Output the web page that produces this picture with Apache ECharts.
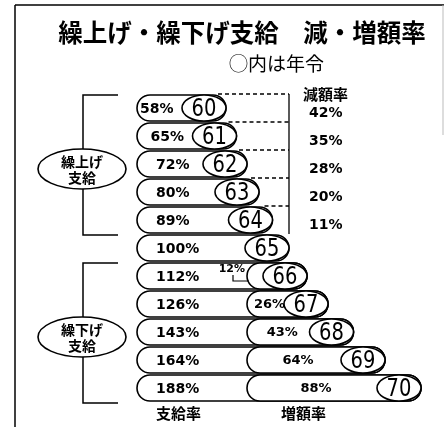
<!DOCTYPE html>
<html>
<head>
<meta charset="utf-8">
<style>html,body{margin:0;padding:0;background:#fff;}#c{width:444px;height:427px;}</style>
<script src="https://cdn.jsdelivr.net/npm/echarts@6/dist/echarts.min.js"></script>
</head>
<body>
<div id="c"></div>
<script>
// ---- data ----
const titleText = '繰上げ・繰下げ支給　減・増額率';
const noteText = '◯内は年令';
const ages = ['60','61','62','63','64','65','66','67','68','69','70'];
const payRates = [58, 65, 72, 80, 89, 100, 112, 126, 143, 164, 188];   // 支給率 (%)
const reductionAges = ['60','61','62','63','64'];
const reductionRates = [42, 35, 28, 20, 11];                          // 減額率 (%)
const increaseAges = ['66','67','68','69','70'];
const increaseRates = [12, 26, 43, 64, 88];                           // 増額率 (%)
const reductionHeader = '減額率';
const bottomLabels = ['支給率', '増額率'];
const groupNames = ['繰上げ\n支給', '繰下げ\n支給'];
const groupFirstAge = ['60', '66'];
const groupLastAge = ['64', '70'];

// ---- styles / layout constants ----
const JP = "'Noto Sans CJK JP', sans-serif";
const NUM = "'DejaVu Sans', sans-serif";
const LW = 1.6;
const INNER_START = 72;   // where the 増額 capsule begins (schematic)
const BASE = 100;

const chart = echarts.init(document.getElementById('c'), null, {renderer: 'canvas'});

function rowItem(params, api) {
  const i = params.dataIndex;
  const rate = api.value(0);
  const age = ages[i];
  const [xEnd, yc] = api.coord([rate, i]);
  const x0 = api.coord([0, i])[0] - 2;
  const xBase = api.coord([BASE, i])[0];
  const band = api.size([0, 1])[1];
  const hh = band / 2 - 1;
  const rx = 22;
  const cx = xEnd - rx;
  const ch = [];
  // outer capsule
  ch.push({type: 'rect', shape: {x: x0, y: yc - hh, width: xEnd - x0, height: hh * 2, r: hh},
    style: {fill: '#fff', stroke: '#000', lineWidth: LW}});
  const ri = reductionAges.indexOf(age);
  if (ri >= 0) {
    const yTop = yc - band / 2;
    ch.push({type: 'line', shape: {x1: xEnd - 8, y1: yTop, x2: xBase, y2: yTop},
      style: {stroke: '#000', lineWidth: 1.3, lineDash: [4, 3]}});
    if (ri === 0) {
      const yBottom = api.coord([0, ages.indexOf(reductionAges[reductionAges.length - 1])])[1] + band / 2;
      ch.push({type: 'line', shape: {x1: xBase, y1: yTop, x2: xBase, y2: yBottom},
        style: {stroke: '#000', lineWidth: 1.3}});
      ch.push({type: 'text', style: {text: reductionHeader, x: xBase + 14, y: yTop, textAlign: 'left', textVerticalAlign: 'middle',
        font: 'bold 15px ' + JP, fill: '#000'}});
    }
    ch.push({type: 'text', style: {text: reductionRates[ri] + '%', x: xBase + 20, y: yc + 5, textAlign: 'left', textVerticalAlign: 'middle',
      font: 'bold 14px ' + NUM, fill: '#000'}});
  }
  const ii = increaseAges.indexOf(age);
  if (ii >= 0) {
    const xi = api.coord([INNER_START, i])[0];
    ch.push({type: 'rect', shape: {x: xi, y: yc - hh, width: xEnd - xi, height: hh * 2, r: hh},
      style: {fill: '#fff', stroke: '#000', lineWidth: LW}});
    const lbl = increaseRates[ii] + '%';
    if (ii === 0) {
      ch.push({type: 'text', style: {text: lbl, x: xi - 2, y: yc - 7, textAlign: 'right', textVerticalAlign: 'middle',
        font: 'bold 11px ' + NUM, fill: '#000'}});
      ch.push({type: 'polyline', shape: {points: [[xi - 14, yc - 1], [xi - 14, yc + 5], [xi + 2, yc + 5]]},
        style: {stroke: '#000', lineWidth: 1.2, fill: null}});
    } else {
      ch.push({type: 'text', style: {text: lbl, x: (xi + cx - rx) / 2 + 4, y: yc + 1, textAlign: 'center', textVerticalAlign: 'middle',
        font: 'bold 13px ' + NUM, fill: '#000'}});
    }
  }
  // age ellipse
  ch.push({type: 'ellipse', shape: {cx: cx, cy: yc, rx: rx, ry: hh},
    style: {fill: '#fff', stroke: '#000', lineWidth: LW}});
  ch.push({type: 'text', x: cx, y: yc + 1, scaleX: 0.78,
    style: {text: age, x: 0, y: 0, textAlign: 'center', textVerticalAlign: 'middle',
    font: '25px ' + NUM, fill: '#000'}});
  // pay rate label
  const tx = Math.min(x0 + 19, cx - rx - 42);
  ch.push({type: 'text', style: {text: rate + '%', x: tx, y: yc + 1, textAlign: 'left', textVerticalAlign: 'middle',
    font: 'bold 14px ' + NUM, fill: '#000'}});
  return {type: 'group', children: ch};
}

function groupItem(params, api) {
  const g = params.dataIndex;
  const yTop = api.coord([0, api.value(0)])[1];
  const yBot = api.coord([0, api.value(1)])[1];
  const band = api.size([0, 1])[1];
  const t = yTop - band / 2 + 1, b = yBot + band / 2 + 1;
  const xv = 83, xa = 118;
  const mid = (t + b) / 2 + 4;
  return {type: 'group', children: [
    {type: 'polyline', shape: {points: [[xa, t], [xv, t], [xv, b], [xa, b]]}, style: {stroke: '#000', lineWidth: 1.5, fill: null}},
    {type: 'ellipse', shape: {cx: 82, cy: mid, rx: 44, ry: 20}, style: {fill: '#fff', stroke: '#000', lineWidth: LW}},
    {type: 'text', style: {text: groupNames[g], x: 82, y: mid + 1, textAlign: 'center', textVerticalAlign: 'middle',
      font: 'bold 14px ' + JP, lineHeight: 16, fill: '#000'}}
  ]};
}

const option = {
  backgroundColor: '#fff',
  animation: false,
  title: {text: titleText, left: 237, textAlign: 'center', top: 15,
    textStyle: {fontFamily: 'Noto Sans CJK JP', fontSize: 24.5, fontWeight: 'bold', color: '#000'}},
  grid: {left: 139, right: 5, top: 94, bottom: 25},
  xAxis: {type: 'value', min: 0, max: 200, show: false},
  yAxis: {type: 'category', data: ages, inverse: true, show: false},
  graphic: [
    {type: 'line', shape: {x1: 15, y1: 5, x2: 444, y2: 5}, style: {stroke: '#000', lineWidth: 1.5}},
    {type: 'line', shape: {x1: 15, y1: 5, x2: 15, y2: 427}, style: {stroke: '#000', lineWidth: 1.5}},
    {type: 'line', shape: {x1: 443, y1: 5, x2: 443, y2: 135}, style: {stroke: '#bbb', lineWidth: 1}},
    {type: 'text', left: 229, top: 54, style: {text: noteText, font: '19px ' + JP, fill: '#000'}},
    {type: 'text', left: 156, top: 406, style: {text: bottomLabels[0], font: 'bold 15px ' + JP, fill: '#000'}},
    {type: 'text', left: 281, top: 406, style: {text: bottomLabels[1], font: 'bold 15px ' + JP, fill: '#000'}}
  ],
  series: [
    {type: 'custom', renderItem: groupItem, clip: false, encode: {x: -1, y: [0, 1]},
      data: groupNames.map((n, g) => [ages.indexOf(groupFirstAge[g]), ages.indexOf(groupLastAge[g])])},
    {type: 'custom', renderItem: rowItem, clip: false, encode: {x: 0, y: 1},
      data: payRates.map((v, i) => [v, i])}
  ]
};
chart.setOption(option);
</script>
</body>
</html>
